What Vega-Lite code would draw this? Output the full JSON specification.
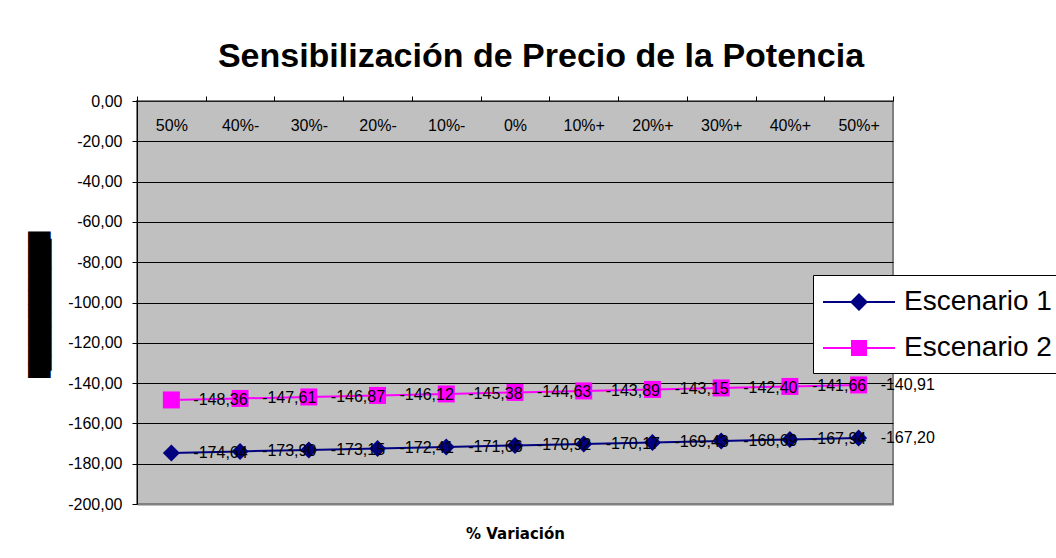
{
  "$schema": "https://vega.github.io/schema/vega-lite/v6.json",
  "width": 756,
  "height": 403,
  "autosize": {"type": "none"},
  "padding": {"left": 137, "top": 101, "right": 163, "bottom": 54},
  "background": "white",
  "config": {
    "locale": {"number": {"decimal": ",", "thousands": ".", "grouping": [3], "currency": ["", " €"], "minus": "-"}},
    "view": {"fill": "#C0C0C0", "stroke": "#808080", "strokeWidth": 2},
    "font": "Liberation Sans",
    "legend": {
      "orient": "none", "legendX": 676, "legendY": 174,
      "labelFontSize": 28, "labelFont": "Liberation Sans", "labelColor": "black",
      "labelLimit": 400, "labelOffset": 29, "padding": 11,
      "strokeColor": "black", "fillColor": "white",
      "symbolSize": 1024, "symbolOffset": 19, "symbolOpacity": 1, "symbolStrokeWidth": 0, "rowPadding": 16
    }
  },
  "title": {
    "text": "Sensibilización de Precio de la Potencia",
    "font": "Liberation Sans",
    "fontSize": 34,
    "fontWeight": "bold",
    "color": "black",
    "anchor": "middle",
    "dx": 26,
    "offset": 19
  },
  "data": {
    "values": [
      {"cat": "50%", "serie": "Escenario 1", "value": -174.64},
      {"cat": "40%-", "serie": "Escenario 1", "value": -173.90},
      {"cat": "30%-", "serie": "Escenario 1", "value": -173.15},
      {"cat": "20%-", "serie": "Escenario 1", "value": -172.41},
      {"cat": "10%-", "serie": "Escenario 1", "value": -171.66},
      {"cat": "0%", "serie": "Escenario 1", "value": -170.92},
      {"cat": "10%+", "serie": "Escenario 1", "value": -170.17},
      {"cat": "20%+", "serie": "Escenario 1", "value": -169.43},
      {"cat": "30%+", "serie": "Escenario 1", "value": -168.69},
      {"cat": "40%+", "serie": "Escenario 1", "value": -167.94},
      {"cat": "50%+", "serie": "Escenario 1", "value": -167.20},
      {"cat": "50%", "serie": "Escenario 2", "value": -148.36},
      {"cat": "40%-", "serie": "Escenario 2", "value": -147.61},
      {"cat": "30%-", "serie": "Escenario 2", "value": -146.87},
      {"cat": "20%-", "serie": "Escenario 2", "value": -146.12},
      {"cat": "10%-", "serie": "Escenario 2", "value": -145.38},
      {"cat": "0%", "serie": "Escenario 2", "value": -144.63},
      {"cat": "10%+", "serie": "Escenario 2", "value": -143.89},
      {"cat": "20%+", "serie": "Escenario 2", "value": -143.15},
      {"cat": "30%+", "serie": "Escenario 2", "value": -142.40},
      {"cat": "40%+", "serie": "Escenario 2", "value": -141.66},
      {"cat": "50%+", "serie": "Escenario 2", "value": -140.91}
    ]
  },
  "layer": [
    {
      "mark": {"type": "line", "strokeWidth": 2},
      "encoding": {
        "x": {
          "field": "cat", "type": "nominal", "bandPosition": 0.5,
          "sort": ["50%", "40%-", "30%-", "20%-", "10%-", "0%", "10%+", "20%+", "30%+", "40%+", "50%+"],
          "scale": {"type": "band", "paddingInner": 0, "paddingOuter": 0},
          "axis": {
            "orient": "top", "title": null, "domainColor": "#202020", "domainWidth": 1,
            "tickColor": "black", "tickSize": 5, "tickBand": "extent",
            "labelPadding": -29, "labelBaseline": "middle", "labelFontSize": 16,
            "labelFont": "Liberation Sans", "labelColor": "black", "labelAngle": 0, "grid": false
          }
        },
        "y": {
          "field": "value", "type": "quantitative",
          "scale": {"domain": [-200, 0], "nice": false, "zero": false},
          "axis": {
            "title": ["██████████", "█████████"],
            "titleFont": "DejaVu Sans", "titleFontSize": 19, "titleFontWeight": "normal",
            "titleLineHeight": 1,
            "titleColor": "black", "titleX": -98, "titleY": 203.5, "titleAngle": 270,
            "titleBaseline": "middle", "titleAlign": "center",
            "values": [0, -20, -40, -60, -80, -100, -120, -140, -160, -180, -200],
            "format": ".2f", "labelFontSize": 16, "labelFont": "Liberation Sans", "labelColor": "black",
            "labelPadding": 10, "tickSize": 5, "tickColor": "black", "domainColor": "black",
            "grid": true, "gridWidth": 1,
            "gridColor": {"condition": {"test": "datum.value == -200 || datum.value == 0", "value": "#808080"}, "value": "black"}
          }
        },
        "color": {
          "field": "serie", "type": "nominal",
          "scale": {"domain": ["Escenario 1", "Escenario 2"], "range": ["#000080", "#FF00FF"]},
          "legend": {"title": null}
        }
      }
    },
    {
      "mark": {"type": "point", "filled": true, "opacity": 0, "size": 289},
      "encoding": {
        "x": {
          "field": "cat", "type": "nominal", "bandPosition": 0.5,
          "sort": ["50%", "40%-", "30%-", "20%-", "10%-", "0%", "10%+", "20%+", "30%+", "40%+", "50%+"],
          "axis": null
        },
        "y": {"field": "value", "type": "quantitative"},
        "color": {"field": "serie", "type": "nominal", "legend": {"title": null}},
        "shape": {
          "field": "serie", "type": "nominal",
          "scale": {
            "domain": ["Escenario 1", "Escenario 2"],
            "range": [
              "M-2.25,-0.0625L2.25,-0.0625L2.25,0.0625L-2.25,0.0625ZM0,-0.5625L0.5625,0L0,0.5625L-0.5625,0Z",
              "M-2.25,-0.0625L2.25,-0.0625L2.25,0.0625L-2.25,0.0625ZM-0.5,-0.5L0.5,-0.5L0.5,0.5L-0.5,0.5Z"
            ]
          },
          "legend": {"title": null}
        }
      }
    },
    {
      "mark": {"type": "point", "filled": true, "opacity": 1, "size": 289},
      "encoding": {
        "x": {
          "field": "cat", "type": "nominal", "bandPosition": 0.5,
          "sort": ["50%", "40%-", "30%-", "20%-", "10%-", "0%", "10%+", "20%+", "30%+", "40%+", "50%+"],
          "axis": null
        },
        "y": {"field": "value", "type": "quantitative"},
        "color": {"field": "serie", "type": "nominal", "legend": {"title": null}},
        "shape": {"condition": {"test": "datum.serie === 'Escenario 1'", "value": "diamond"}, "value": "square"}
      }
    },
    {
      "mark": {"type": "text", "align": "left", "baseline": "middle", "dx": 22, "fontSize": 16, "font": "Liberation Sans", "color": "black"},
      "encoding": {
        "x": {
          "field": "cat", "type": "nominal", "bandPosition": 0.5,
          "sort": ["50%", "40%-", "30%-", "20%-", "10%-", "0%", "10%+", "20%+", "30%+", "40%+", "50%+"],
          "axis": {
            "orient": "bottom", "title": "% Variación", "titleFont": "DejaVu Sans",
            "titleFontSize": 15, "titleFontWeight": "bold", "titleColor": "black",
            "titleY": 29, "titleBaseline": "middle",
            "labels": false, "ticks": false, "domain": true, "domainColor": "#808080", "domainWidth": 2, "grid": false
          }
        },
        "y": {"field": "value", "type": "quantitative"},
        "text": {"field": "value", "type": "quantitative", "format": ".2f"}
      }
    }
  ],
  "resolve": {"axis": {"x": "independent"}}
}
